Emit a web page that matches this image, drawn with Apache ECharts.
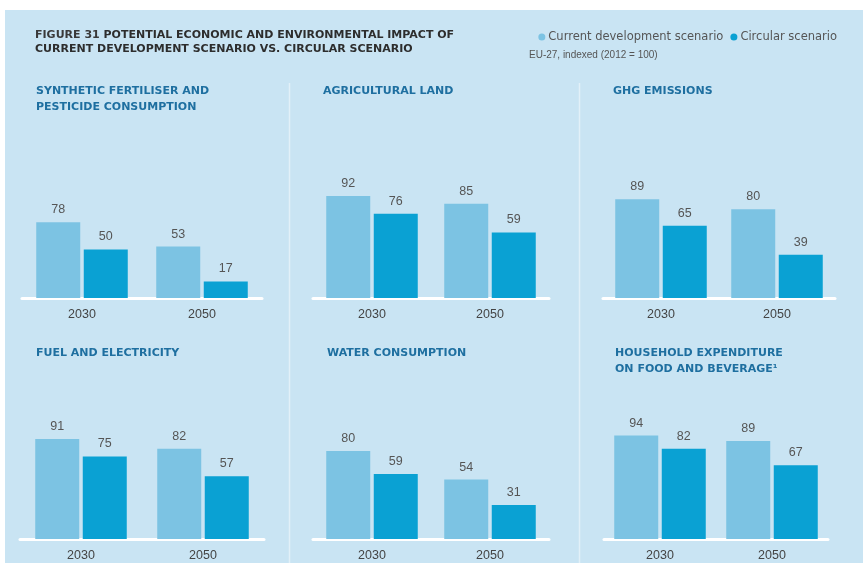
<!DOCTYPE html>
<html>
<head>
<meta charset="utf-8">
<script src="https://cdn.jsdelivr.net/npm/echarts@6/dist/echarts.min.js"></script>
<style>
html,body{margin:0;padding:0;background:#fff;}
#c{width:863px;height:563px;}
</style>
</head>
<body>
<div id="c"></div>
<script>
// ---- data ----
const categories = ['2030', '2050'];
const seriesNames = ['Current development scenario', 'Circular scenario'];
const panelTitles = [
  'SYNTHETIC FERTILISER AND\nPESTICIDE CONSUMPTION',
  'AGRICULTURAL LAND',
  'GHG EMISSIONS',
  'FUEL AND ELECTRICITY',
  'WATER CONSUMPTION',
  'HOUSEHOLD EXPENDITURE\nON FOOD AND BEVERAGE¹'
];
const fertiliserCurrent = [78, 53];
const fertiliserCircular = [50, 17];
const landCurrent = [92, 85];
const landCircular = [76, 59];
const ghgCurrent = [89, 80];
const ghgCircular = [65, 39];
const fuelCurrent = [91, 82];
const fuelCircular = [75, 57];
const waterCurrent = [80, 54];
const waterCircular = [59, 31];
const householdCurrent = [94, 89];
const householdCircular = [82, 67];

const currentValues = [fertiliserCurrent, landCurrent, ghgCurrent, fuelCurrent, waterCurrent, householdCurrent];
const circularValues = [fertiliserCircular, landCircular, ghgCircular, fuelCircular, waterCircular, householdCircular];

// ---- layout ----
const grids = [
  {left: 22, width: 240, top: 201, height: 97},
  {left: 313, width: 236, top: 187, height: 111},
  {left: 603, width: 232, top: 187, height: 111},
  {left: 20, width: 244, top: 429, height: 110},
  {left: 313, width: 236, top: 429, height: 110},
  {left: 604, width: 224, top: 429, height: 110}
];
const titlePos = [
  {left: 36, top: 83}, {left: 323, top: 83}, {left: 613, top: 83},
  {left: 36, top: 345}, {left: 327, top: 345}, {left: 615, top: 345}
];
const lightColor = '#7cc3e3';
const darkColor = '#0aa1d3';
const bgColor = '#c9e4f3';

const chart = echarts.init(document.getElementById('c'), null, {renderer: 'canvas'});

const titles = [{
  left: 35, top: 28, padding: 0,
  text: '{r|FIGURE 31 }{b|POTENTIAL ECONOMIC AND ENVIRONMENTAL IMPACT OF}\n{b|CURRENT DEVELOPMENT SCENARIO VS. CIRCULAR SCENARIO}',
  textStyle: {
    rich: {
      r: {fontFamily: 'DejaVu Sans', fontSize: 11, color: '#3a3a3a', lineHeight: 14},
      b: {fontFamily: 'DejaVu Sans', fontSize: 11, fontWeight: 'bold', color: '#2d2d2d', lineHeight: 14}
    }
  }
}, {
  left: 529, top: 50, padding: 0,
  text: 'EU-27, indexed (2012 = 100)',
  textStyle: {fontFamily: 'Liberation Sans', fontSize: 10, fontWeight: 'normal', color: '#555'}
}];
panelTitles.forEach((t, i) => {
  titles.push({
    left: titlePos[i].left, top: titlePos[i].top, text: t, padding: 0,
    textStyle: {fontFamily: 'DejaVu Sans', fontSize: 11, fontWeight: 'bold', color: '#1e6fa0', lineHeight: 16}
  });
});

const xAxes = [], yAxes = [], series = [];
grids.forEach((g, i) => {
  xAxes.push({
    type: 'category', gridIndex: i, data: categories,
    axisLine: {show: true, lineStyle: {color: '#ffffff', width: 3}},
    axisTick: {show: false},
    axisLabel: {color: '#444', fontFamily: 'Liberation Sans', fontSize: 12.5, margin: 10}
  });
  yAxes.push({
    type: 'value', gridIndex: i, min: 0, max: 100,
    show: false, splitLine: {show: false}
  });
  const lbl = {show: true, position: 'top', distance: 6, color: '#555', fontFamily: 'Liberation Sans', fontSize: 12.5};
  series.push({
    name: seriesNames[0], type: 'bar', xAxisIndex: i, yAxisIndex: i,
    data: currentValues[i], barWidth: 44, barGap: '8%',
    itemStyle: {color: lightColor}, label: lbl, silent: true
  });
  series.push({
    name: seriesNames[1], type: 'bar', xAxisIndex: i, yAxisIndex: i,
    data: circularValues[i], barWidth: 44, barGap: '8%',
    itemStyle: {color: darkColor}, label: lbl, silent: true
  });
});

chart.setOption({
  animation: false,
  backgroundColor: '#ffffff',
  graphic: [
    {type: 'rect', z: -10, shape: {x: 5, y: 10, width: 858, height: 553}, style: {fill: bgColor}},
    {type: 'line', z: -5, shape: {x1: 289.5, y1: 83, x2: 289.5, y2: 563}, style: {stroke: '#e2f0f8', lineWidth: 1.5}},
    {type: 'line', z: -5, shape: {x1: 579.5, y1: 83, x2: 579.5, y2: 563}, style: {stroke: '#e2f0f8', lineWidth: 1.5}}
  ],
  title: titles,
  legend: {
    right: 26, top: 31, padding: 0,
    itemWidth: 7, itemHeight: 7, itemGap: 7,
    icon: 'circle',
    data: seriesNames,
    textStyle: {fontFamily: 'DejaVu Sans', fontSize: 11.5, color: '#555', padding: [0, 0, 0, -2]}
  },
  grid: grids,
  xAxis: xAxes,
  yAxis: yAxes,
  series: series
});
</script>
</body>
</html>
